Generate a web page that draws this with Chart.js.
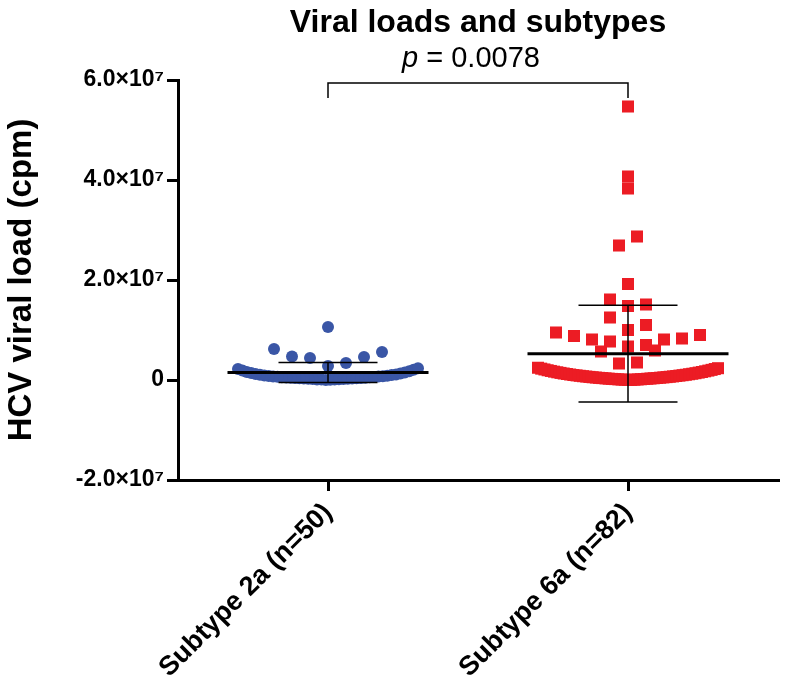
<!DOCTYPE html>
<html>
<head>
<meta charset="utf-8">
<script src="https://cdn.jsdelivr.net/npm/chart.js@4"></script>
<style>
  body { margin: 0; background: #fff; }
</style>
</head>
<body>
<canvas id="chart" width="788" height="685"></canvas>
<script>
// categories and their positions on the x axis
const groups = ['Subtype 2a (n=50)', 'Subtype 6a (n=82)'];
const groupX = [1, 3];

// viral loads (cpm)
const subtype2a = [
  10600000, 5600000, 6200000, 4400000, 4600000, 4700000, 2800000, 3400000,
  20000, 45000, 80000, 95000, 120000, 150000, 185000, 200000, 230000, 250000,
  280000, 310000, 330000, 350000, 390000, 400000, 430000, 470000, 500000, 530000,
  560000, 600000, 640000, 690000, 720000, 770000, 820000, 860000, 920000, 980000,
  1050000, 1110000, 1200000, 1300000, 1400000, 1500000, 1620000, 1750000, 1900000,
  2050000, 2200000, 2350000
];
const subtype6a = [
  54700000, 40700000, 38300000, 28700000, 26900000, 19200000, 16100000, 14800000,
  15100000, 12500000, 11000000, 9500000, 8800000, 8100000, 7700000, 8100000,
  8300000, 9000000, 10000000, 6700000, 5700000, 5900000, 7000000, 3300000, 3500000,
  10000, 30000, 50000, 70000, 90000, 110000, 130000, 150000, 180000, 200000,
  220000, 250000, 270000, 300000, 320000, 350000, 380000, 400000, 430000, 460000,
  490000, 520000, 550000, 580000, 620000, 650000, 690000, 720000, 760000, 800000,
  840000, 880000, 920000, 960000, 1000000, 1050000, 1100000, 1150000, 1200000, 1250000,
  1300000, 1360000, 1420000, 1480000, 1540000, 1600000, 1670000, 1740000, 1810000, 1880000,
  1950000, 2030000, 2110000, 2190000, 2270000, 2360000, 2450000
];

const yTicks = [-20000000, 0, 20000000, 40000000, 60000000];
const pValue = '0.0078';

const FONT = 'Arial, "Liberation Sans", Helvetica, sans-serif';

// GraphPad-like spreading: points falling in the same row are fanned out
// symmetrically from the middle, lowest values nearest the centre
const binSize = 3750000;
const binOrigin = -1250000;
function spread(values, center) {
  const rows = {};
  values.forEach(v => {
    const k = Math.floor((v - binOrigin) / binSize);
    (rows[k] = rows[k] || []).push(v);
  });
  const pts = [];
  Object.values(rows).forEach(row => {
    row.sort((a, b) => a - b);
    const n = row.length;
    const step = n > 1 ? Math.min(0.12, 1.2 / (n - 1)) : 0;
    const even = n % 2 === 0;
    row.forEach((v, i) => {
      let k;
      if (even) k = (Math.floor(i / 2) + 0.5) * (i % 2 ? 1 : -1);
      else k = Math.ceil(i / 2) * (i % 2 ? 1 : -1);
      pts.push({ x: center + k * step, y: v });
    });
  });
  return pts;
}

function meanSd(v) {
  const m = v.reduce((a, b) => a + b, 0) / v.length;
  const sd = Math.sqrt(v.reduce((a, b) => a + (b - m) * (b - m), 0) / (v.length - 1));
  return [m, sd];
}

function meanLine(c, m) {
  return [{ x: c - 0.67, y: m }, { x: c + 0.67, y: m }];
}
function sdBars(c, m, sd) {
  return [
    { x: c - 0.33, y: m + sd }, { x: c + 0.33, y: m + sd }, { x: c, y: null },
    { x: c, y: m + sd }, { x: c, y: m - sd }, { x: c, y: null },
    { x: c - 0.33, y: m - sd }, { x: c + 0.33, y: m - sd }
  ];
}

const stats2a = meanSd(subtype2a);
const stats6a = meanSd(subtype6a);

// bracket and p value, plus the title centred over the plot area
const bracketPlugin = {
  id: 'bracket',
  afterDraw(chart) {
    const { ctx, scales: { x, y }, chartArea } = chart;
    const x1 = x.getPixelForValue(groupX[0]);
    const x2 = x.getPixelForValue(groupX[1]);
    const top = y.getPixelForValue(59400000);
    const low = top + 15;
    ctx.save();
    ctx.strokeStyle = '#000';
    ctx.lineWidth = 1.5;
    ctx.beginPath();
    ctx.moveTo(x1, low);
    ctx.lineTo(x1, top);
    ctx.lineTo(x2, top);
    ctx.lineTo(x2, low);
    ctx.stroke();

    ctx.fillStyle = '#000';
    ctx.textBaseline = 'alphabetic';
    ctx.textAlign = 'left';
    const mid = (x1 + x2) / 2 - 7;
    ctx.font = 'italic 29px ' + FONT;
    const wp = ctx.measureText('p').width;
    ctx.font = '29px ' + FONT;
    const rest = ' = ' + pValue;
    const wr = ctx.measureText(rest).width;
    const sx = mid - (wp + wr) / 2;
    ctx.font = 'italic 29px ' + FONT;
    ctx.fillText('p', sx, top - 16);
    ctx.font = '29px ' + FONT;
    ctx.fillText(rest, sx + wp, top - 16);

    ctx.font = 'bold 32px ' + FONT;
    ctx.textAlign = 'center';
    ctx.fillText('Viral loads and subtypes', (chartArea.left + chartArea.right) / 2, 32);
    ctx.restore();
  }
};

new Chart(document.getElementById('chart'), {
  type: 'scatter',
  data: {
    datasets: [
      { data: meanLine(groupX[0], stats2a[0]), showLine: true, borderColor: '#000', borderWidth: 3, pointRadius: 0, order: 0 },
      { data: sdBars(groupX[0], stats2a[0], stats2a[1]), showLine: true, spanGaps: false, borderColor: '#000', borderWidth: 1.5, pointRadius: 0, order: 0 },
      { data: meanLine(groupX[1], stats6a[0]), showLine: true, borderColor: '#000', borderWidth: 3, pointRadius: 0, order: 0 },
      { data: sdBars(groupX[1], stats6a[0], stats6a[1]), showLine: true, spanGaps: false, borderColor: '#000', borderWidth: 1.5, pointRadius: 0, order: 0 },
      {
        label: groups[0], data: spread(subtype2a, groupX[0]), order: 1,
        pointStyle: 'circle', pointRadius: 6, pointBorderWidth: 0,
        backgroundColor: '#3a56a6', borderColor: '#3a56a6'
      },
      {
        label: groups[1], data: spread(subtype6a, groupX[1]), order: 1,
        pointStyle: 'rect', pointRadius: 8.5, pointBorderWidth: 0,
        backgroundColor: '#ec1c24', borderColor: '#ec1c24'
      }
    ]
  },
  options: {
    responsive: false,
    animation: false,
    layout: { padding: { top: 80, right: 10, left: 0, bottom: 0 } },
    plugins: { legend: { display: false }, tooltip: { enabled: false } },
    scales: {
      x: {
        type: 'linear', min: 0, max: 4,
        afterBuildTicks: s => { s.ticks = groupX.map(v => ({ value: v })); },
        afterFit: s => { s.height = 205; },
        ticks: {
          callback: v => groups[groupX.indexOf(v)],
          minRotation: 45, maxRotation: 45, autoSkip: false,
          color: '#000', padding: 6,
          font: { family: FONT, size: 27, weight: 'bold' }
        },
        grid: { drawOnChartArea: false, tickLength: 11, lineWidth: 3, color: '#000' },
        border: { display: true, width: 3, color: '#000' }
      },
      y: {
        min: -20000000, max: 60000000,
        afterBuildTicks: s => { s.ticks = yTicks.map(v => ({ value: v })); },
        afterFit: s => { s.width = 178; },
        ticks: {
          callback: v => v === 0 ? '0' : (v / 1e7).toFixed(1) + '×10⁷',
          color: '#000', padding: 3,
          font: { family: FONT, size: 23, weight: 'bold' }
        },
        grid: { drawOnChartArea: false, tickLength: 11, lineWidth: 3, color: '#000' },
        border: { display: true, width: 3, color: '#000' },
        title: {
          display: true, text: 'HCV viral load (cpm)', color: '#000',
          padding: { top: 2, bottom: 0 },
          font: { family: FONT, size: 33, weight: 'bold' }
        }
      }
    }
  },
  plugins: [bracketPlugin]
});
</script>
</body>
</html>
